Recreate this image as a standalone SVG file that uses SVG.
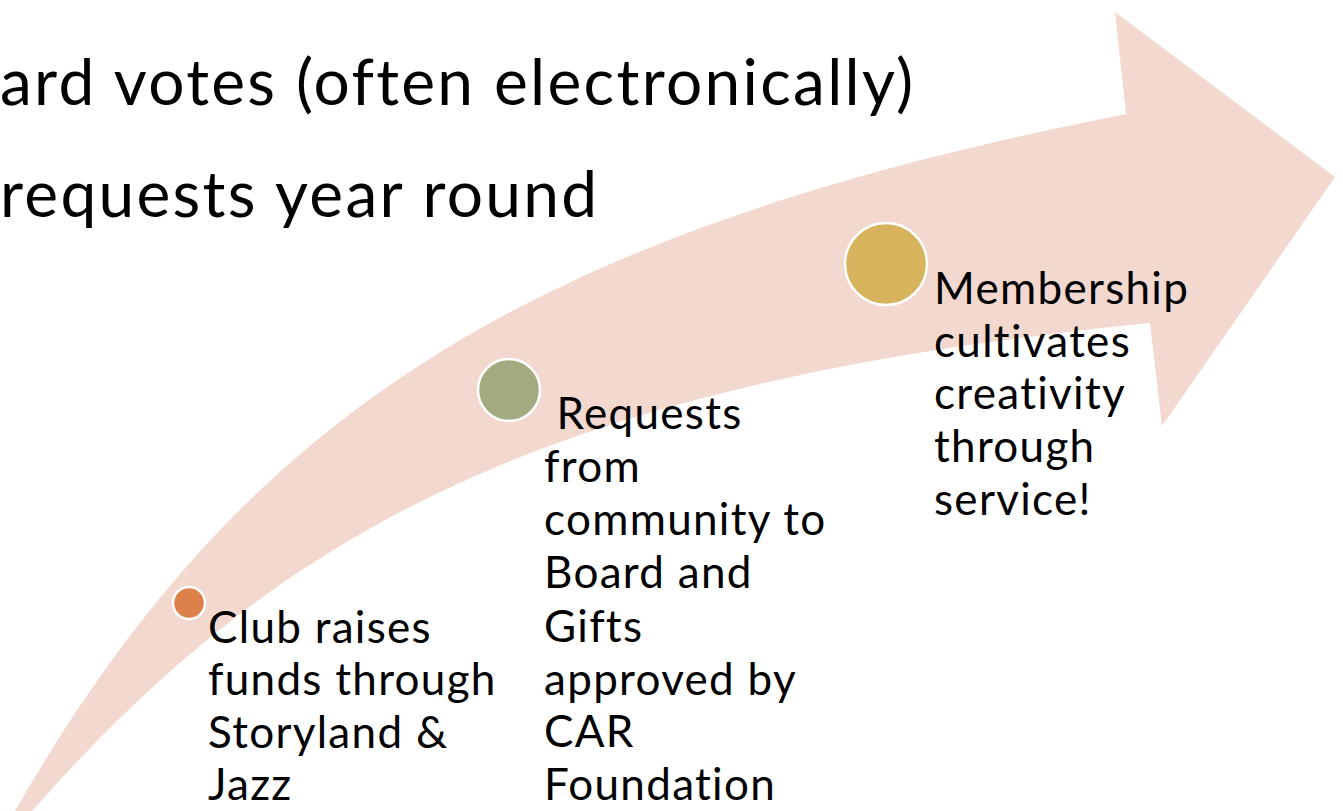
<svg xmlns="http://www.w3.org/2000/svg" width="1343" height="811" viewBox="0 0 1343 811">
  <style>
    .t { font-family: Lato, "Noto Sans", "DejaVu Sans", sans-serif; fill: #000; }
    .head { font-size: 64px; letter-spacing: 2.3px; }
    .body { font-size: 44px; letter-spacing: 1.3px; }
    .dot { stroke: #ffffff; stroke-width: 2.5; }
  </style>
  <rect width="1343" height="811" fill="#ffffff"/>
  <g id="title">
    <text class="t head" x="0" y="105">ard votes (often electronically)</text>
    <text class="t head" x="0" y="217">requests year round</text>
  </g>
  <g id="connectors">
    <path id="arrow" fill="#F2D8CF" d="M15,811 C242,415 526,232 1126,114 L1115,12 L1335,177 L1162,426 L1150,323 C550,383 283,526 32,811 Z"/>
  </g>
  <g id="node-club">
    <circle class="dot" cx="189" cy="603" r="16" fill="#DE8049"/>
    <text class="t body" x="208" y="643">Club raises</text>
    <text class="t body" x="208" y="695">funds through</text>
    <text class="t body" x="208" y="748">Storyland &amp;</text>
    <text class="t body" x="208" y="800">Jazz</text>
  </g>
  <g id="node-requests">
    <circle class="dot" cx="509" cy="390" r="31" fill="#A4AA80"/>
    <text class="t body" x="544" y="429" xml:space="preserve"> Requests</text>
    <text class="t body" x="544" y="482">from</text>
    <text class="t body" x="544" y="535">community to</text>
    <text class="t body" x="544" y="588">Board and</text>
    <text class="t body" x="544" y="642">Gifts</text>
    <text class="t body" x="544" y="695">approved by</text>
    <text class="t body" x="544" y="747">CAR</text>
    <text class="t body" x="544" y="800">Foundation</text>
  </g>
  <g id="node-membership">
    <circle class="dot" cx="886" cy="264" r="41" fill="#D8B35E"/>
    <text class="t body" x="934" y="304">Membership</text>
    <text class="t body" x="934" y="357">cultivates</text>
    <text class="t body" x="934" y="409">creativity</text>
    <text class="t body" x="934" y="462">through</text>
    <text class="t body" x="934" y="515">service!</text>
  </g>
</svg>
